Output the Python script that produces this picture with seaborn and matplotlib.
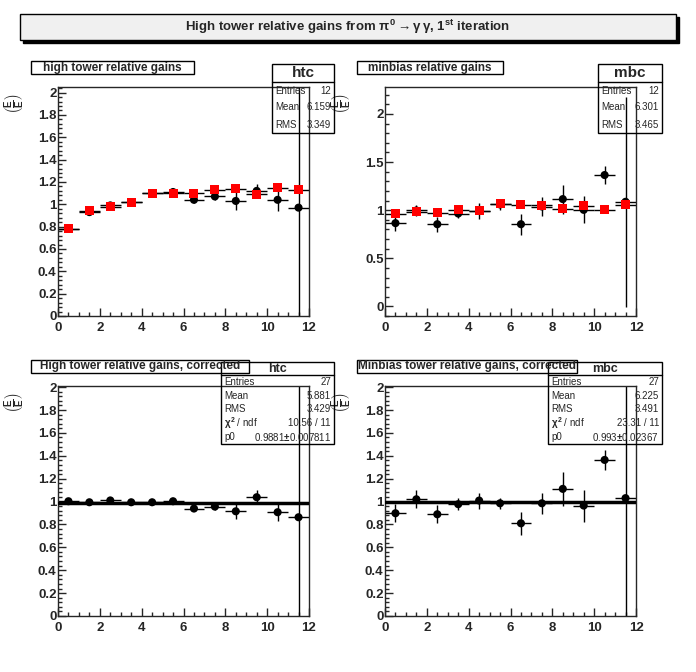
import numpy as np
import pandas as pd
import matplotlib
matplotlib.use("Agg")
import matplotlib.pyplot as plt
import seaborn as sns
from matplotlib.patches import Rectangle
from matplotlib.ticker import MultipleLocator, FuncFormatter

sns.set_style("ticks")
plt.rcParams['font.family'] = ['Liberation Sans', 'DejaVu Sans']
plt.rcParams['font.weight'] = 'bold'
plt.rcParams['mathtext.fontset'] = 'custom'
plt.rcParams['mathtext.rm'] = 'Liberation Sans:bold'
plt.rcParams['mathtext.it'] = 'Liberation Sans:bold'

# --- data ---
bins = [0.5, 1.5, 2.5, 3.5, 4.5, 5.5, 6.5, 7.5, 8.5, 9.5, 10.5, 11.5]

htc_raw = [0.78, 0.93, 0.99, 1.02, 1.10, 1.11, 1.04, 1.07, 1.03, 1.12, 1.04, 0.97]
htc_raw_err = [0.01, 0.02, 0.03, 0.02, 0.03, 0.03, 0.03, 0.03, 0.08, 0.06, 0.10, 1.2]
htc_red = [0.78, 0.94, 0.98, 1.02, 1.10, 1.10, 1.10, 1.13, 1.14, 1.09, 1.15, 1.13]

mbc_raw = [0.865, 0.997, 0.854, 0.965, 0.993, 1.059, 0.854, 1.038, 1.115, 1.003, 1.365, 1.087]
mbc_raw_err = [0.08, 0.06, 0.08, 0.05, 0.08, 0.06, 0.11, 0.10, 0.15, 0.14, 0.09, 1.09]
mbc_red = [0.962, 0.986, 0.972, 1.003, 0.993, 1.066, 1.055, 1.052, 1.014, 1.045, 1.003, 1.055]

htc_corr = [1.003, 0.994, 1.01, 0.994, 0.994, 1.003, 0.939, 0.956, 0.915, 1.038, 0.907, 0.863]
htc_corr_err = [0.015, 0.015, 0.02, 0.015, 0.015, 0.015, 0.02, 0.03, 0.07, 0.06, 0.08, 1.2]
htc_fit = 0.9881

mbc_corr = [0.898, 1.02, 0.889, 0.977, 1.009, 0.985, 0.81, 0.985, 1.111, 0.965, 1.364, 1.03]
mbc_corr_err = [0.08, 0.08, 0.08, 0.05, 0.07, 0.05, 0.10, 0.09, 0.15, 0.14, 0.09, 1.1]
mbc_fit = 0.993

panel_titles = ["high tower relative gains", "minbias relative gains",
                "High tower relative gains, corrected", "Minbias tower relative gains, corrected"]
stat_names = ["htc", "mbc", "htc", "mbc"]
stat_rows = [
    [("Entries", "12"), ("Mean", "6.159"), ("RMS", "3.349")],
    [("Entries", "12"), ("Mean", "6.301"), ("RMS", "3.465")],
    [("Entries", "27"), ("Mean", "5.881"), ("RMS", "3.429"),
     (r"$\chi^2$ / ndf", "10.56 / 11"), ("p0", r"0.9881$\pm$0.007811")],
    [("Entries", "27"), ("Mean", "6.225"), ("RMS", "3.491"),
     (r"$\chi^2$ / ndf", "23.31 / 11"), ("p0", r"0.993$\pm$0.02367")],
]

W, H = 696, 672
fig = plt.figure(figsize=(W / 100, H / 100), dpi=100)
fig.patch.set_facecolor('white')


def fx(px):
    return px / W


def fy(py):
    return 1 - py / H


def box(x0, y0, x1, y1, fc='white', lw=1.0, z=5):
    r = Rectangle((fx(x0), fy(y1)), fx(x1) - fx(x0), fy(y0) - fy(y1),
                  transform=fig.transFigure, facecolor=fc, edgecolor='black',
                  lw=lw, zorder=z)
    fig.add_artist(r)


def make_axes(left, top, right, bottom):
    return fig.add_axes([fx(left), fy(bottom), fx(right) - fx(left), fy(top) - fy(bottom)])


def style_axes(ax, ylim, major, minor):
    ax.set_xlim(0, 12)
    ax.set_ylim(*ylim)
    ax.xaxis.set_major_locator(MultipleLocator(2))
    ax.xaxis.set_minor_locator(MultipleLocator(0.5))
    ax.yaxis.set_major_locator(MultipleLocator(major))
    ax.yaxis.set_minor_locator(MultipleLocator(minor))
    fmt = FuncFormatter(lambda v, p: "%g" % round(v, 3))
    ax.xaxis.set_major_formatter(fmt)
    ax.yaxis.set_major_formatter(fmt)
    ax.tick_params(which='both', direction='in', top=False, right=False,
                   labelsize=9.5, width=1)
    ax.tick_params(which='major', length=6)
    ax.tick_params(axis='y', which='major', pad=1)
    ax.tick_params(axis='x', which='major', pad=4)
    ax.tick_params(which='minor', length=3)
    for s in ax.spines.values():
        s.set_visible(True)
        s.set_linewidth(1)
    for lab in ax.get_xticklabels() + ax.get_yticklabels():
        lab.set_fontweight('bold')
    ax.set_xlabel("")
    ax.set_ylabel(r"$\left(\frac{E}{E}\right)$", fontsize=10, rotation=90, labelpad=2)
    ax.yaxis.set_label_coords(-0.125, 0.93)


def draw_points(ax, y, yerr, color, marker, size):
    df = pd.DataFrame({'bin': bins, 'gain': y, 'err': yerr})
    ax.errorbar(df['bin'], df['gain'], xerr=0.5, yerr=df['err'], fmt='none',
                ecolor='black', elinewidth=1, capsize=0, zorder=2)
    sns.scatterplot(data=df, x='bin', y='gain', ax=ax, color=color, marker=marker,
                    s=size, edgecolor='none', linewidth=0, zorder=3, legend=False)


# main title with shadow
box(23, 17, 679, 43, fc='black', z=4)
box(20, 14, 676, 40, fc='#f0f0f0', z=5)
fig.text(fx(348), fy(27), r"High tower relative gains from $\pi^0\rightarrow\gamma\,\gamma$, 1$^{st}$ iteration",
         ha='center', va='center', fontsize=9.5, fontweight='bold', zorder=6)

ax1 = make_axes(58, 87, 309, 316)
draw_points(ax1, htc_raw, htc_raw_err, 'black', 'o', 34)
draw_points(ax1, htc_red, [0] * len(bins), 'red', 's', 42)
style_axes(ax1, (0, 2.05), 0.2, 0.04)

ax2 = make_axes(385, 87, 636, 316)
draw_points(ax2, mbc_raw, mbc_raw_err, 'black', 'o', 34)
draw_points(ax2, mbc_red, [0] * len(bins), 'red', 's', 42)
style_axes(ax2, (-0.1, 2.28), 0.5, 0.1)

ax3 = make_axes(58, 386, 309, 616)
draw_points(ax3, htc_corr, htc_corr_err, 'black', 'o', 34)
ax3.plot([0, 12], [htc_fit, htc_fit], color='black', lw=2.5, zorder=4)
style_axes(ax3, (0, 2.01), 0.2, 0.04)

ax4 = make_axes(385, 386, 636, 616)
draw_points(ax4, mbc_corr, mbc_corr_err, 'black', 'o', 34)
ax4.plot([0, 12], [mbc_fit, mbc_fit], color='black', lw=2.5, zorder=4)
style_axes(ax4, (0, 2.01), 0.2, 0.04)

# panel titles
title_boxes = [(31, 61, 194, 74), (357, 61, 503, 74), (31, 360, 249, 373), (357, 360, 577, 373)]
for (x0, y0, x1, y1), t in zip(title_boxes, panel_titles):
    box(x0, y0, x1, y1)
    fig.text(fx((x0 + x1) / 2), fy((y0 + y1) / 2), t, ha='center', va='center',
             fontsize=8.5, fontweight='bold', zorder=6)

# stats boxes
stat_boxes = [(272, 64, 334, 133, 82), (598, 64, 662, 133, 82),
              (221, 362, 334, 444, 375), (548, 362, 662, 444, 375)]
for (x0, y0, x1, y1, yh), name, rows in zip(stat_boxes, stat_names, stat_rows):
    big = len(rows) == 3
    box(x0, y0, x1, y1, fc='none', z=5)
    fig.add_artist(plt.Line2D([fx(x0), fx(x1)], [fy(yh), fy(yh)],
                              transform=fig.transFigure, color='black', lw=1, zorder=6))
    fig.text(fx((x0 + x1) / 2), fy((y0 + yh) / 2), name, ha='center', va='center',
             fontsize=11 if big else 9, fontweight='bold', zorder=6)
    step = (y1 - yh) / len(rows)
    for i, (lab, val) in enumerate(rows):
        yy = yh + step * (i + 0.5)
        fig.text(fx(x0 + 3), fy(yy), lab, ha='left', va='center', fontsize=7,
                 fontweight='normal', zorder=6)
        fig.text(fx(x1 - 3), fy(yy), val, ha='right', va='center', fontsize=7,
                 fontweight='normal', zorder=6)

fig.savefig('out.png', dpi=100)
